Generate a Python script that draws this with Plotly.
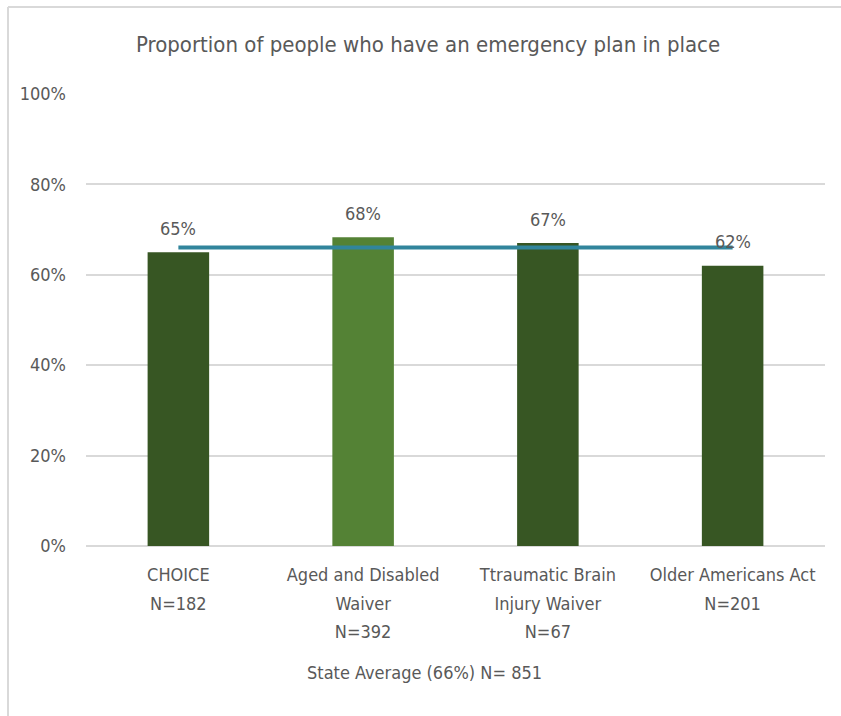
import plotly.graph_objects as go

categories = ["CHOICE<br>N=182", "Aged and Disabled<br>Waiver<br>N=392",
              "Ttraumatic Brain<br>Injury Waiver<br>N=67", "Older Americans Act<br>N=201"]
values = [0.65, 0.683, 0.67, 0.62]
value_labels = ["65%", "68%", "67%", "62%"]
bar_colors = ["#375623", "#548235", "#375623", "#375623"]
state_average = 0.66
title_text = "Proportion of people who have an emergency plan in place"
footer_text = "State Average (66%) N= 851"
y_ticks = [0, 0.2, 0.4, 0.6, 0.8, 1.0]
y_tick_labels = ["0%", "20%", "40%", "60%", "80%", "100%"]

FONT = "DejaVu Sans Condensed, Liberation Sans Narrow, sans-serif"
GREY = "#595959"
FS = 18
W, H = 841, 716
ML, MR, MT, MB = 86, 16, 93, 170
PW, PH = W - ML - MR, H - MT - MB

def px_x(x):
    return (x - ML) / PW

def px_y(y):
    return (H - MB - y) / PH

tick_text = ["<br>".join(f'<span style="font-size:{FS}px">{part}</span>' for part in c.split("<br>"))
             for c in categories]

fig = go.Figure()
fig.add_trace(go.Bar(x=categories, y=values, marker=dict(color=bar_colors, line=dict(width=0)),
                     showlegend=False, hoverinfo="skip"))
fig.add_trace(go.Scatter(x=[categories[0], categories[-1]], y=[state_average, state_average],
                         mode="lines", line=dict(color="#31859C", width=4),
                         showlegend=False, hoverinfo="skip"))

annotations = []
for c, v, t in zip(categories, values, value_labels):
    annotations.append(dict(x=c, y=v, text=t, showarrow=False, yanchor="middle", yshift=24,
                            font=dict(family=FONT, size=FS, color=GREY)))
annotations.append(dict(x=px_x(424), y=px_y(672), xref="paper", yref="paper", text=footer_text,
                        showarrow=False, xanchor="center", yanchor="middle",
                        font=dict(family=FONT, size=FS, color=GREY)))
annotations.append(dict(x=px_x(428), y=px_y(45), xref="paper", yref="paper", text=title_text,
                        showarrow=False, xanchor="center", yanchor="middle",
                        font=dict(family=FONT, size=22, color=GREY)))

shapes = [
    dict(type="line", xref="paper", yref="paper", x0=px_x(8), x1=px_x(W + 5), y0=px_y(7), y1=px_y(7),
         line=dict(color="#d9d9d9", width=2), layer="below"),
    dict(type="line", xref="paper", yref="paper", x0=px_x(8), x1=px_x(8), y0=px_y(7), y1=px_y(H + 5),
         line=dict(color="#d9d9d9", width=2), layer="below"),
]

fig.update_layout(
    width=W, height=H,
    margin=dict(l=ML, r=MR, t=MT, b=MB),
    paper_bgcolor="white", plot_bgcolor="white",
    bargap=0.667,
    annotations=annotations,
    shapes=shapes,
    font=dict(family=FONT, size=FS, color=GREY),
    xaxis=dict(showgrid=False, showline=False, zeroline=False, ticks="",
               tickmode="array", tickvals=categories, ticktext=tick_text,
               tickfont=dict(family=FONT, size=22, color=GREY), ticklabelstandoff=12),
    yaxis=dict(range=[0, 1.002], tickvals=y_ticks, ticktext=y_tick_labels, showgrid=True,
               gridcolor="#d9d9d9", gridwidth=1.5, zeroline=True, zerolinecolor="#d9d9d9",
               zerolinewidth=1.5, showline=False, ticks="",
               tickfont=dict(family=FONT, size=FS, color=GREY), ticklabelstandoff=19),
)

fig.write_html("out.html", config={"displayModeBar": False},
               post_script="document.body.style.margin='0';document.body.style.overflow='hidden';")
